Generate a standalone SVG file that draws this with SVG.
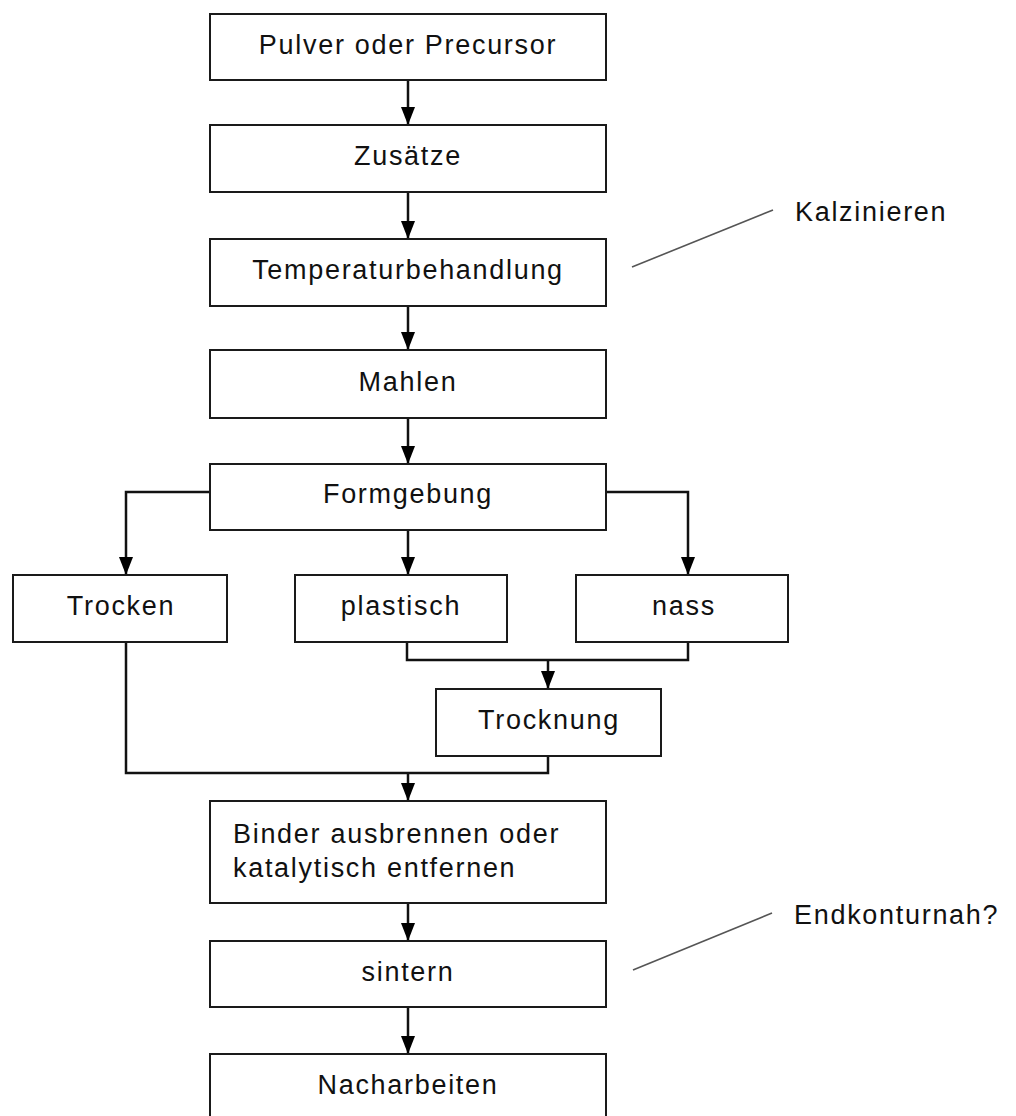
<svg xmlns="http://www.w3.org/2000/svg" width="1016" height="1116" viewBox="0 0 1016 1116">
<style>
.box{fill:#fff;stroke:#1a1a1a;stroke-width:2}
.t{font-family:"Liberation Sans",Arial,sans-serif;font-size:27px;letter-spacing:1.7px;fill:#111;text-anchor:middle}
.tl{text-anchor:start}
.c{fill:none;stroke:#111;stroke-width:2.5}
.note{fill:none;stroke:#555;stroke-width:1.6}
</style>
<defs>
<marker id="ah" viewBox="0 0 18 14" refX="18" refY="7" markerWidth="18" markerHeight="14" markerUnits="userSpaceOnUse" orient="auto">
<path d="M0,0 L18,7 L0,14 z" fill="#000"/>
</marker>
</defs>
<rect width="1016" height="1116" fill="#fff"/>
<g id="connectors">
<path class="c" d="M408,80 V125" marker-end="url(#ah)"/>
<path class="c" d="M408,192 V239" marker-end="url(#ah)"/>
<path class="c" d="M408,306 V350" marker-end="url(#ah)"/>
<path class="c" d="M408,418 V464" marker-end="url(#ah)"/>
<path class="c" d="M210,492 H126 V575" marker-end="url(#ah)"/>
<path class="c" d="M408,530 V575" marker-end="url(#ah)"/>
<path class="c" d="M606,492 H688 V575" marker-end="url(#ah)"/>
<path class="c" d="M407,642 V660 H688 V642"/>
<path class="c" d="M548,660 V689" marker-end="url(#ah)"/>
<path class="c" d="M126,642 V773 H548 V756"/>
<path class="c" d="M408,773 V801" marker-end="url(#ah)"/>
<path class="c" d="M408,903 V941" marker-end="url(#ah)"/>
<path class="c" d="M408,1007 V1054" marker-end="url(#ah)"/>
<path class="note" d="M632,267 L773,210"/>
<path class="note" d="M633,970 L772,913"/>
</g>
<g id="n1"><rect class="box" x="210" y="14" width="396" height="66"/><text class="t" x="408" y="54">Pulver oder Precursor</text></g>
<g id="n2"><rect class="box" x="210" y="125" width="396" height="67"/><text class="t" x="408" y="165">Zusätze</text></g>
<g id="n3"><rect class="box" x="210" y="239" width="396" height="67"/><text class="t" x="408" y="279">Temperaturbehandlung</text></g>
<g id="n4"><rect class="box" x="210" y="350" width="396" height="68"/><text class="t" x="408" y="391">Mahlen</text></g>
<g id="n5"><rect class="box" x="210" y="464" width="396" height="66"/><text class="t" x="408" y="503">Formgebung</text></g>
<g id="n6"><rect class="box" x="13" y="575" width="214" height="67"/><text class="t" x="121" y="615">Trocken</text></g>
<g id="n7"><rect class="box" x="295" y="575" width="212" height="67"/><text class="t" x="401" y="615">plastisch</text></g>
<g id="n8"><rect class="box" x="576" y="575" width="212" height="67"/><text class="t" x="684" y="615">nass</text></g>
<g id="n9"><rect class="box" x="436" y="689" width="225" height="67"/><text class="t" x="549" y="729">Trocknung</text></g>
<g id="n10"><rect class="box" x="210" y="801" width="396" height="102"/><text class="t tl" x="233" y="843">Binder ausbrennen oder</text><text class="t tl" x="233" y="877">katalytisch entfernen</text></g>
<g id="n11"><rect class="box" x="210" y="941" width="396" height="66"/><text class="t" x="408" y="981">sintern</text></g>
<g id="n12"><rect class="box" x="210" y="1054" width="396" height="70"/><text class="t" x="408" y="1094">Nacharbeiten</text></g>
<g id="notes">
<text class="t tl" x="795" y="221">Kalzinieren</text>
<text class="t tl" x="794" y="924">Endkonturnah?</text>
</g>
</svg>
